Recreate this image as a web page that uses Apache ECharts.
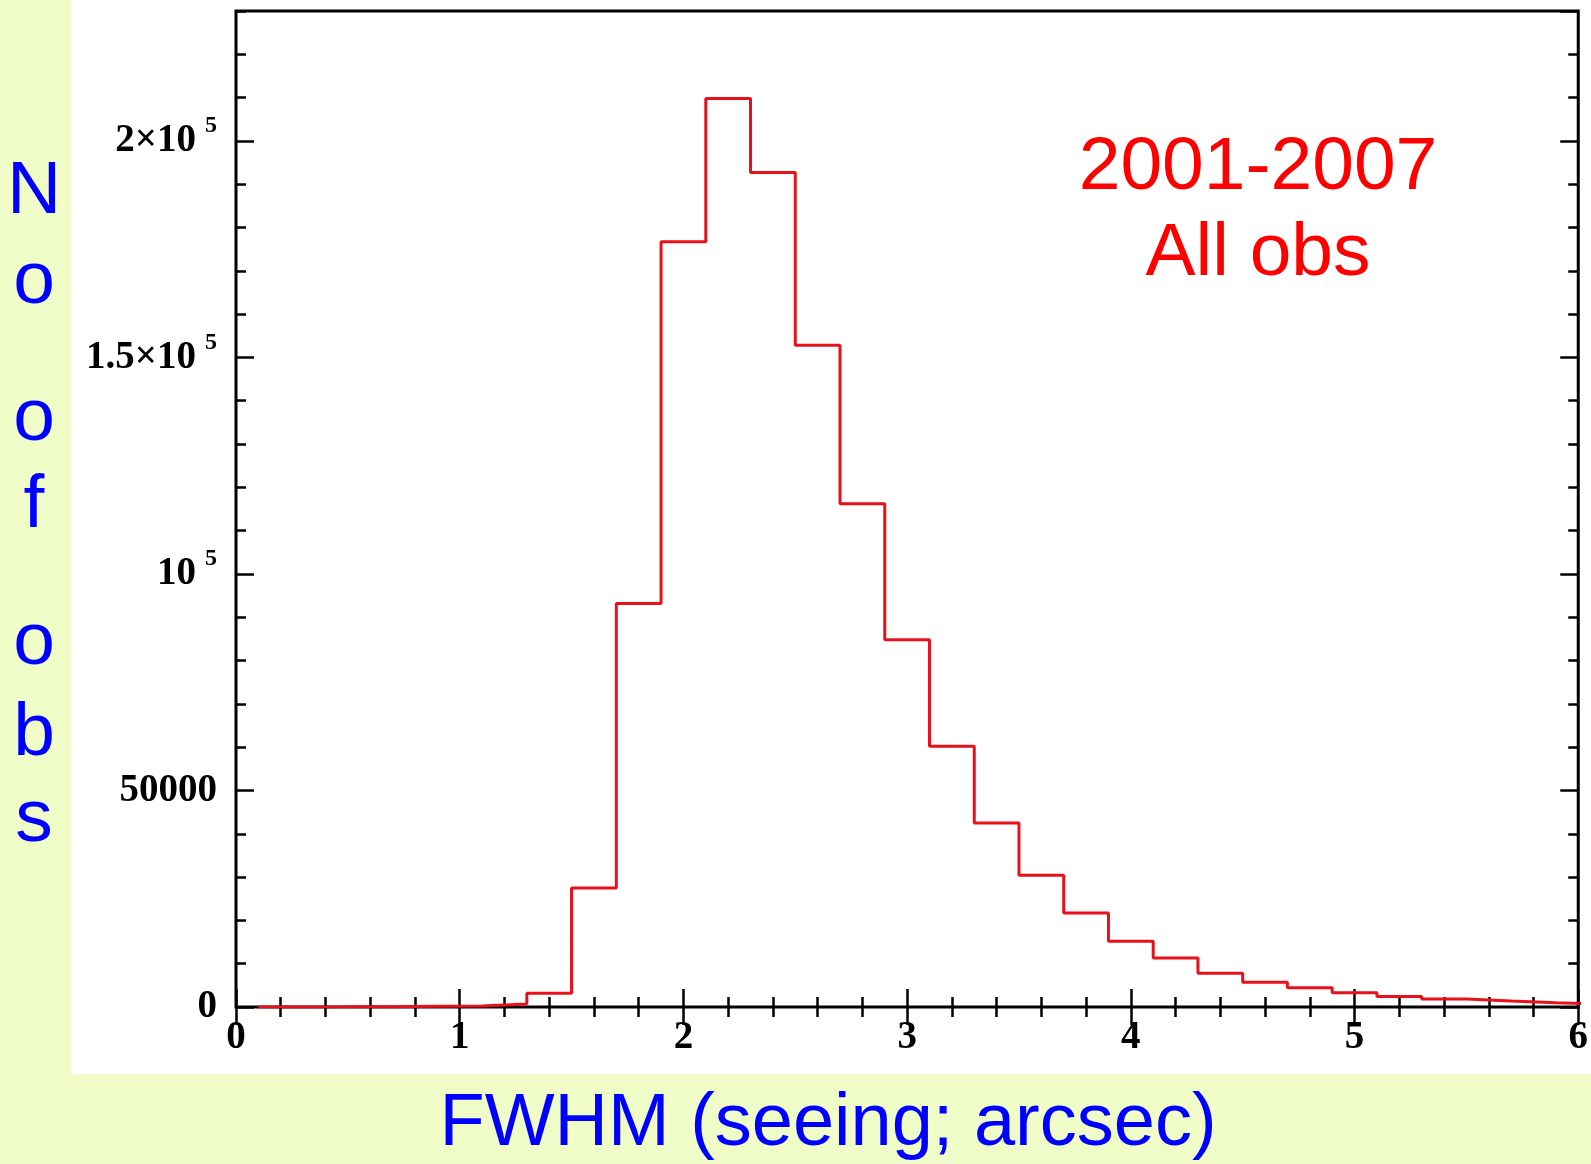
<!DOCTYPE html>
<html>
<head>
<meta charset="utf-8">
<script src="https://cdn.jsdelivr.net/npm/echarts@6/dist/echarts.min.js"></script>
<style>
  html, body { margin: 0; padding: 0; background: #f0fcc8; }
  #chart { width: 1591px; height: 1164px; }
</style>
</head>
<body>
<div id="chart"></div>
<script>
// histogram bins (left edge, width 0.2) and counts
var binLeft = [0.1, 0.3, 0.5, 0.7, 0.9, 1.1, 1.3, 1.5, 1.7, 1.9, 2.1, 2.3, 2.5, 2.7, 2.9,
  3.1, 3.3, 3.5, 3.7, 3.9, 4.1, 4.3, 4.5, 4.7, 4.9, 5.1, 5.3, 5.5, 5.7, 5.9];
var binRightEnd = 6.1;
var counts = [20, 30, 50, 150, 250, 700, 3200, 27500, 93200, 176700, 209800, 192700, 152800, 116200, 84800,
  60200, 42500, 30400, 21700, 15200, 11300, 7800, 5700, 4450, 3300, 2400, 1850, 1400, 1000, 700];

// y tick labels: mantissa + exponent
var yTickValues = [0, 50000, 100000, 150000, 200000];
var yTickMain = ['0', '50000', '10', '1.5×10', '2×10'];
var yTickExp = ['', '', '5', '5', '5'];

var yLetters = ['N', 'o', 'o', 'f', 'o', 'b', 's'];
var titleLines = ['2001-2007', 'All obs'];
var xTitle = 'FWHM (seeing; arcsec)';

var chart = echarts.init(document.getElementById('chart'));

// step points: left edge of each bin, plus closing right edge
var pts = binLeft.map(function (x, i) { return [x, counts[i]]; });
pts.push([binRightEnd, counts[counts.length - 1]]);

var serif = 'Liberation Serif';
var sans = 'Liberation Sans';

function yLabel(v) {
  var i = yTickValues.indexOf(v);
  if (i < 0) return '';
  if (!yTickExp[i]) return '{n|' + yTickMain[i] + '}';
  return '{n|' + yTickMain[i] + '}{s|' + yTickExp[i] + '}';
}

function axisBase(extra) {
  return Object.assign({
    axisLine: { show: false },
    splitLine: { show: false },
    axisTick: { show: true, inside: true, length: 18, lineStyle: { color: '#000', width: 2.5 } },
    axisLabel: { show: false }
  }, extra);
}

var yBase = { type: 'value', min: 0, max: 230000 };
var xBase = { type: 'value', min: 0, max: 6, interval: 1 };
var minorX = { show: true, splitNumber: 5, length: 10, lineStyle: { color: '#000', width: 2.5 } };
var minorTickY = { show: true, inside: true, length: 10, lineStyle: { color: '#000', width: 2.5 } };

// blue vertical y-title letters
var letterY = [192, 282, 419, 506, 643, 734, 820];

var graphics = [
  { type: 'rect', z: -100, shape: { x: 71, y: 0, width: 1520, height: 1074 }, style: { fill: '#fff' } },
  {
    type: 'text', x: 828, y: 1125,
    style: { text: xTitle, font: '74px ' + sans, fill: '#0000ff', textAlign: 'center', textVerticalAlign: 'middle' }
  },
  {
    type: 'text', x: 1258, y: 168,
    style: { text: titleLines[0], font: '75px ' + sans, fill: '#ff0000', textAlign: 'center', textVerticalAlign: 'middle' }
  },
  {
    type: 'text', x: 1258, y: 254,
    style: { text: titleLines[1], font: '75px ' + sans, fill: '#ff0000', textAlign: 'center', textVerticalAlign: 'middle' }
  }
];
yLetters.forEach(function (ch, i) {
  graphics.push({
    type: 'text', x: 34, y: letterY[i],
    style: { text: ch, font: '75px ' + sans, fill: '#0000ff', textAlign: 'center', textVerticalAlign: 'middle' }
  });
});

var option = {
  animation: false,
  backgroundColor: 'transparent',
  grid: {
    left: 236, right: 10, top: 11, bottom: 157,
    show: true, backgroundColor: '#fff', borderColor: '#000', borderWidth: 3
  },
  xAxis: [
    axisBase(Object.assign({}, xBase, {
      position: 'bottom',
      minorTick: minorX,
      axisLabel: {
        show: true, margin: 11, color: '#000',
        fontFamily: serif, fontSize: 39, fontWeight: 'bold'
      }
    })),
    axisBase(Object.assign({}, xBase, { position: 'top', minorTick: minorX }))
  ],
  yAxis: [
    // major ticks + labels
    axisBase(Object.assign({}, yBase, {
      position: 'left', interval: 50000,
      axisLabel: {
        show: true, margin: 19, showMaxLabel: false,
        formatter: yLabel,
        rich: {
          n: { fontFamily: serif, fontSize: 39, fontWeight: 'bold', color: '#000', lineHeight: 54 },
          s: { fontFamily: serif, fontSize: 24, fontWeight: 'bold', color: '#000', lineHeight: 22,
               verticalAlign: 'top', padding: [0, 0, 0, 9] }
        }
      }
    })),
    // minor ticks
    axisBase(Object.assign({}, yBase, { position: 'left', interval: 10000, axisTick: minorTickY })),
    axisBase(Object.assign({}, yBase, { position: 'right', interval: 50000 })),
    axisBase(Object.assign({}, yBase, { position: 'right', interval: 10000, axisTick: minorTickY }))
  ],
  graphic: graphics,
  series: [{
    type: 'line',
    xAxisIndex: 0,
    yAxisIndex: 0,
    step: 'end',
    data: pts,
    symbol: 'none',
    clip: true,
    lineStyle: { color: '#e8101a', width: 3 },
    z: 5
  }]
};

chart.setOption(option);
</script>
</body>
</html>
